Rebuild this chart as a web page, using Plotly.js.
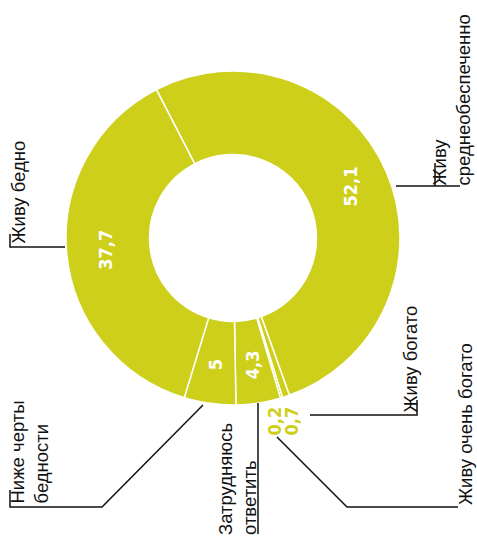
<!DOCTYPE html>
<html>
<head>
<meta charset="utf-8">
<script src="https://cdn.plot.ly/plotly-3.0.1.min.js"></script>
<style>html,body{margin:0;padding:0;background:#fff;}#chart{width:477px;height:539px;}</style>
</head>
<body>
<div id="chart"></div>
<script>
// ---- data ----
const categories = ['Живу среднеобеспеченно', 'Живу богато', 'Живу очень богато', 'Затрудняюсь ответить', 'Ниже черты бедности', 'Живу бедно'];
const values = [52.1, 0.7, 0.2, 4.3, 5, 37.7];
const valueLabels = ['52,1', '0,7', '0,2', '4,3', '5', '37,7'];
const labelInside = [true, false, false, true, true, true];
const categoryLabels = ['Живу<br>среднеобеспеченно', 'Живу богато', 'Живу очень богато', 'Затрудняюсь<br>ответить', 'Ниже черты<br>бедности', 'Живу бедно'];

// ---- layout geometry (pixels) ----
const W = 477, H = 539;
const CX = 233, CY = 238, R = 167, HOLE = 0.5;
const ROT = -27.3;
const GREEN = '#cdcf1b';
const px = x => x / W;
const py = y => 1 - y / H;

const total = values.reduce((a, b) => a + b, 0);
const annotations = [];
let cum = 0;
values.forEach((v, i) => {
  const mid = (ROT + (cum + v / 2) / total * 360) * Math.PI / 180;
  cum += v;
  if (labelInside[i]) {
    const rr = R * (1 + HOLE) / 2 + 3;
    annotations.push({
      xref: 'paper', yref: 'paper',
      x: px(CX + rr * Math.sin(mid)), y: py(CY - rr * Math.cos(mid)),
      xanchor: 'center', yanchor: 'middle', showarrow: false, textangle: -90,
      text: '<b>' + valueLabels[i] + '</b>',
      font: {family: 'Liberation Sans Narrow, DejaVu Sans Condensed, Roboto, sans-serif', size: 18, color: '#ffffff'}
    });
  }
});

// small outside value labels
const smallPos = {1: [291, 437], 2: [274, 437]};
Object.keys(smallPos).forEach(k => {
  const [x, y] = smallPos[k];
  annotations.push({
    xref: 'paper', yref: 'paper', x: px(x), y: py(y),
    xanchor: 'center', yanchor: 'bottom', showarrow: false, textangle: -90, borderpad: 0,
    text: '<b>' + valueLabels[k] + '</b>',
    font: {family: 'Liberation Sans Narrow, DejaVu Sans Condensed, Roboto, sans-serif', size: 18, color: GREEN}
  });
});

// category labels: [centre x, start (bottom) y]
const catPos = [[451, 187], [410, 414], [465, 506], [237, 536], [29, 505], [18, 245]];
categoryLabels.forEach((t, i) => {
  annotations.push({
    xref: 'paper', yref: 'paper', x: px(catPos[i][0]), y: py(catPos[i][1]),
    xanchor: 'center', yanchor: 'bottom', showarrow: false, textangle: -90, align: 'left',
    text: t, borderpad: 0,
    font: {family: 'Liberation Sans, Arial, sans-serif', size: 18.5, color: '#111111'}
  });
});

// leader lines (pixel paths)
const leaders = [
  [[396, 186], [460, 186]],
  [[435, 186], [435, 163]],
  [[310, 415], [417, 415], [417, 400]],
  [[277, 437], [347, 507], [458, 507]],
  [[258, 403], [258, 534]],
  [[203, 405], [102, 507], [10, 507], [10, 490]],
  [[65, 247], [10, 247], [10, 234]]
];
const shapes = leaders.map(pts => ({
  type: 'path', xref: 'paper', yref: 'paper',
  path: pts.map((p, j) => (j ? 'L' : 'M') + px(p[0]) + ',' + py(p[1])).join(' '),
  line: {color: '#111111', width: 1.5}
}));

const trace = {
  type: 'pie',
  labels: categories,
  values: values,
  sort: false,
  direction: 'clockwise',
  rotation: ROT,
  hole: HOLE,
  textinfo: 'none',
  hoverinfo: 'label+value',
  marker: {colors: categories.map(() => GREEN), line: {color: '#ffffff', width: 1.5}},
  domain: {x: [px(CX - R), px(CX + R)], y: [py(CY + R), py(CY - R)]}
};

Plotly.newPlot('chart', [trace], {
  width: W, height: H,
  margin: {l: 0, r: 0, t: 0, b: 0},
  paper_bgcolor: '#ffffff',
  showlegend: false,
  annotations: annotations,
  shapes: shapes
}, {staticPlot: true});
</script>
</body>
</html>
